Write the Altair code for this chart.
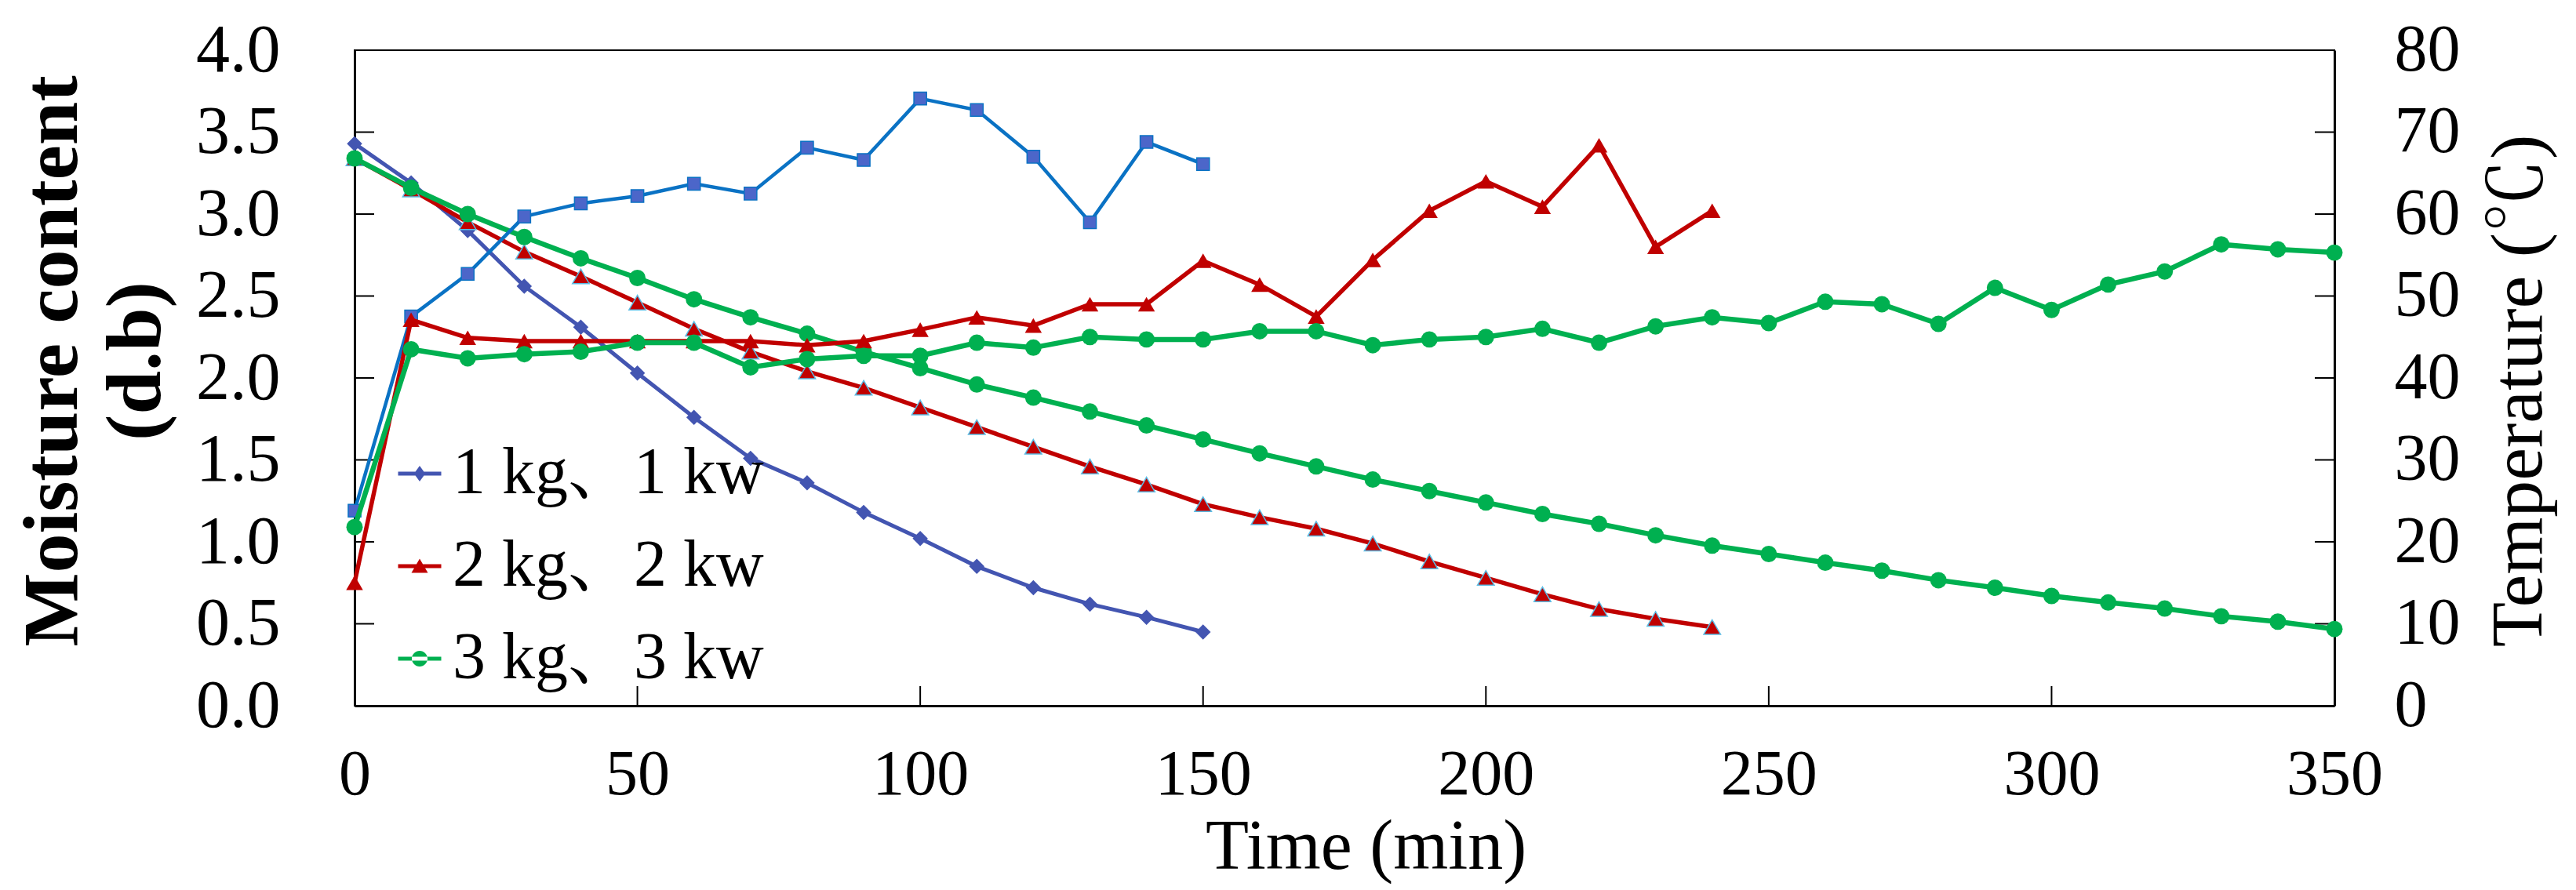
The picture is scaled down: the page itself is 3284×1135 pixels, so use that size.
import altair as alt
import pandas as pd

# ---------------- data ----------------
series_names = ["1 kg、1 kw", "2 kg、2 kw", "3 kg、3 kw"]

time_1 = [0, 10, 20, 30, 40, 50, 60, 70, 80, 90, 100, 110, 120, 130, 140, 150]
moist_1 = [3.43, 3.19, 2.90, 2.56, 2.31, 2.03, 1.76, 1.51, 1.36, 1.18, 1.02, 0.85, 0.72, 0.62, 0.54, 0.45]
temp_1 = [23.8, 47.5, 52.7, 59.7, 61.3, 62.2, 63.7, 62.5, 68.1, 66.6, 74.1, 72.7, 67.0, 59.0, 68.8, 66.1]

time_2 = [0, 10, 20, 30, 40, 50, 60, 70, 80, 90, 100, 110, 120, 130, 140, 150,
          160, 170, 180, 190, 200, 210, 220, 230, 240]
moist_2 = [3.34, 3.15, 2.95, 2.77, 2.62, 2.46, 2.30, 2.16, 2.04, 1.94, 1.82, 1.70, 1.58,
           1.46, 1.35, 1.23, 1.15, 1.08, 0.99, 0.88, 0.78, 0.68, 0.59, 0.53, 0.48]
temp_2 = [15.0, 47.1, 44.9, 44.5, 44.5, 44.5, 44.5, 44.5, 44.0, 44.5, 45.9, 47.4, 46.4,
          49.0, 49.0, 54.3, 51.4, 47.5, 54.4, 60.4, 64.0, 60.9, 68.4, 56.0, 60.4]

time_3 = [0, 10, 20, 30, 40, 50, 60, 70, 80, 90, 100, 110, 120, 130, 140, 150, 160, 170,
          180, 190, 200, 210, 220, 230, 240, 250, 260, 270, 280, 290, 300, 310, 320, 330, 340, 350]
moist_3 = [3.34, 3.16, 3.00, 2.86, 2.73, 2.61, 2.48, 2.37, 2.27, 2.16, 2.06, 1.96, 1.88, 1.795,
           1.71, 1.625, 1.54, 1.46, 1.38, 1.31, 1.24, 1.17, 1.11, 1.04, 0.977, 0.926, 0.873,
           0.824, 0.766, 0.72, 0.67, 0.63, 0.593, 0.546, 0.513, 0.468]
temp_3 = [21.8, 43.5, 42.4, 42.9, 43.2, 44.3, 44.3, 41.3, 42.3, 42.7, 42.7, 44.3, 43.7, 45.0,
          44.7, 44.7, 45.7, 45.7, 44.0, 44.7, 45.0, 46.0, 44.3, 46.3, 47.4, 46.7, 49.3, 49.0,
          46.6, 51.0, 48.3, 51.4, 53.0, 56.3, 55.7, 55.3]

x_ticks = [0, 50, 100, 150, 200, 250, 300, 350]
moist_ticks = [0.0, 0.5, 1.0, 1.5, 2.0, 2.5, 3.0, 3.5, 4.0]
temp_ticks = [0, 10, 20, 30, 40, 50, 60, 70, 80]

# ---------------- styling ----------------
W, H = 2524, 836
FONT = "'Liberation Serif', 'Times New Roman', 'Noto Serif CJK SC', 'Noto Sans CJK SC', serif"
C1M = "#4355B1"
C1T = "#0A72C4"
C1T_FILL = "#4C66C9"
RED = "#C00000"
RED_EDGE = "#5BBCE4"
GREEN = "#00B050"

legend_paths = [
    "M-2.75,-0.24L2.75,-0.24L2.75,0.24L-2.75,0.24Z M0,-1L0.72,0L0,1L-0.72,0Z",
    "M-2.75,-0.24L2.75,-0.24L2.75,0.24L-2.75,0.24Z M0,-0.95L1.05,0.85L-1.05,0.85Z",
    "M-2.75,-0.24L2.75,-0.24L2.75,0.24L-2.75,0.24Z M-1,0A1,1 0 1,0 1,0A1,1 0 1,0 -1,0Z",
]
legend_colors = [C1M, RED, GREEN]

df1 = pd.DataFrame({"t": time_1, "m": moist_1, "T": temp_1, "series": series_names[0]})
df2 = pd.DataFrame({"t": time_2, "m": moist_2, "T": temp_2, "series": series_names[1]})
df3 = pd.DataFrame({"t": time_3, "m": moist_3, "T": temp_3, "series": series_names[2]})
df_all = pd.concat([df1, df2, df3], ignore_index=True)

xscale = alt.Scale(domain=[0, 350], nice=False, zero=False)
mscale = alt.Scale(domain=[0, 4], nice=False, zero=False)
tscale = alt.Scale(domain=[0, 80], nice=False, zero=False)

xaxis = alt.Axis(
    title="Time (min)", values=x_ticks, format="d", grid=False, ticks=False,
    domainColor="black", domainWidth=3, labelFont=FONT, labelFontSize=82,
    labelColor="black", labelPadding=47, labelFlush=False, labelOverlap=False,
    titleFont=FONT, titleFontSize=90, titleFontWeight="normal", titleColor="black",
    titleX=1289, titleY=207, titleAlign="center", titleBaseline="alphabetic",
)
maxis = alt.Axis(
    title=["Moisture content", "(d.b)"], orient="left", values=moist_ticks, format=".1f",
    grid=False, ticks=False, domainColor="black", domainWidth=3, labelFont=FONT,
    labelFontSize=86, labelColor="black", labelPadding=95, labelFlush=False,
    labelOverlap=False, titleFont=FONT, titleFontSize=100, titleFontWeight="bold",
    titleColor="black", titleAngle=270, titleX=-355, titleY=396, titleAlign="center",
    titleBaseline="alphabetic", titleLineHeight=106,
)
taxis = alt.Axis(
    title="Temperature (℃)", orient="right", values=temp_ticks, format="d",
    grid=False, ticks=False, domainColor="black", domainWidth=3, labelFont=FONT,
    labelFontSize=84, labelColor="black", labelPadding=76, labelFlush=False,
    labelOverlap=False, titleFont=FONT, titleFontSize=94, titleFontWeight="normal",
    titleColor="black", titleAngle=270, titleX=263, titleY=434, titleAlign="center",
    titleBaseline="alphabetic",
)

X = alt.X("t:Q", scale=xscale, axis=xaxis)
YM = alt.Y("m:Q", scale=mscale, axis=maxis)
YT = alt.Y("T:Q", scale=tscale, axis=taxis)


def line_layer(df, y, color, width):
    return alt.Chart(df).mark_line(color=color, strokeWidth=width).encode(x=X, y=y)


def point_layer(df, y, shape, size, fill, stroke=None, sw=0):
    kw = dict(shape=shape, size=size, filled=True, fill=fill, fillOpacity=1, opacity=1)
    if stroke is not None:
        kw.update(stroke=stroke, strokeWidth=sw)
    return alt.Chart(df).mark_point(**kw).encode(x=X, y=y)


# inward tick marks
xtick_df = pd.DataFrame({"t": x_ticks})
ytick_df = pd.DataFrame({"m": moist_ticks})
xtick_rules = alt.Chart(xtick_df).mark_rule(color="black", strokeWidth=2).encode(
    x=X, y=alt.value(H), y2=alt.value(H - 25))
ltick_rules = alt.Chart(ytick_df).mark_rule(color="black", strokeWidth=2).encode(
    y=YM, x=alt.value(0), x2=alt.value(25))
rtick_rules = alt.Chart(ytick_df).mark_rule(color="black", strokeWidth=2).encode(
    y=YM, x=alt.value(W - 25), x2=alt.value(W))

# legend-only layer (no marks drawn)
legend_layer = alt.Chart(df_all).transform_filter("false").mark_point(
    filled=True, opacity=1).encode(
    x=X, y=YM,
    color=alt.Color("series:N", scale=alt.Scale(domain=series_names, range=legend_colors),
                    legend=alt.Legend(
                        orient="none", legendX=23, legendY=498, title=None,
                        labelFont=FONT, labelFontSize=84, labelColor="black",
                        labelLimit=3000, symbolSize=400, rowPadding=34, labelOffset=0,
                        symbolOffset=18, padding=0, symbolStrokeWidth=0,
                        symbolOpacity=1)),
    shape=alt.Shape("series:N", scale=alt.Scale(domain=series_names, range=legend_paths)),
)

temp_layers = alt.layer(
    line_layer(df1, YT, C1T, 4.5),
    point_layer(df1, YT, "square", 260, C1T_FILL, C1T, 1.5),
    line_layer(df2, YT, RED, 5.5),
    point_layer(df2, YT, "triangle-up", 460, RED),
    line_layer(df3, YT, GREEN, 6.5),
    point_layer(df3, YT, "circle", 440, GREEN),
)

moist_layers = alt.layer(
    xtick_rules, ltick_rules, rtick_rules,
    line_layer(df1, YM, C1M, 5),
    point_layer(df1, YM, "diamond", 380, C1M),
    line_layer(df2, YM, RED, 5.5),
    point_layer(df2, YM, "triangle-up", 460, RED, RED_EDGE, 1.5),
    line_layer(df3, YM, GREEN, 6.5),
    point_layer(df3, YM, "circle", 440, GREEN),
    legend_layer,
)

chart = alt.layer(moist_layers, temp_layers).resolve_scale(y="independent").properties(
    width=W, height=H,
    autosize=alt.AutoSizeParams(type="none"),
    padding={"left": 444, "top": 56, "right": 300, "bottom": 227},
    background="white",
).configure_view(stroke="black", strokeWidth=2)

chart.save("out.html", embed_options={"renderer": "svg", "actions": False})
